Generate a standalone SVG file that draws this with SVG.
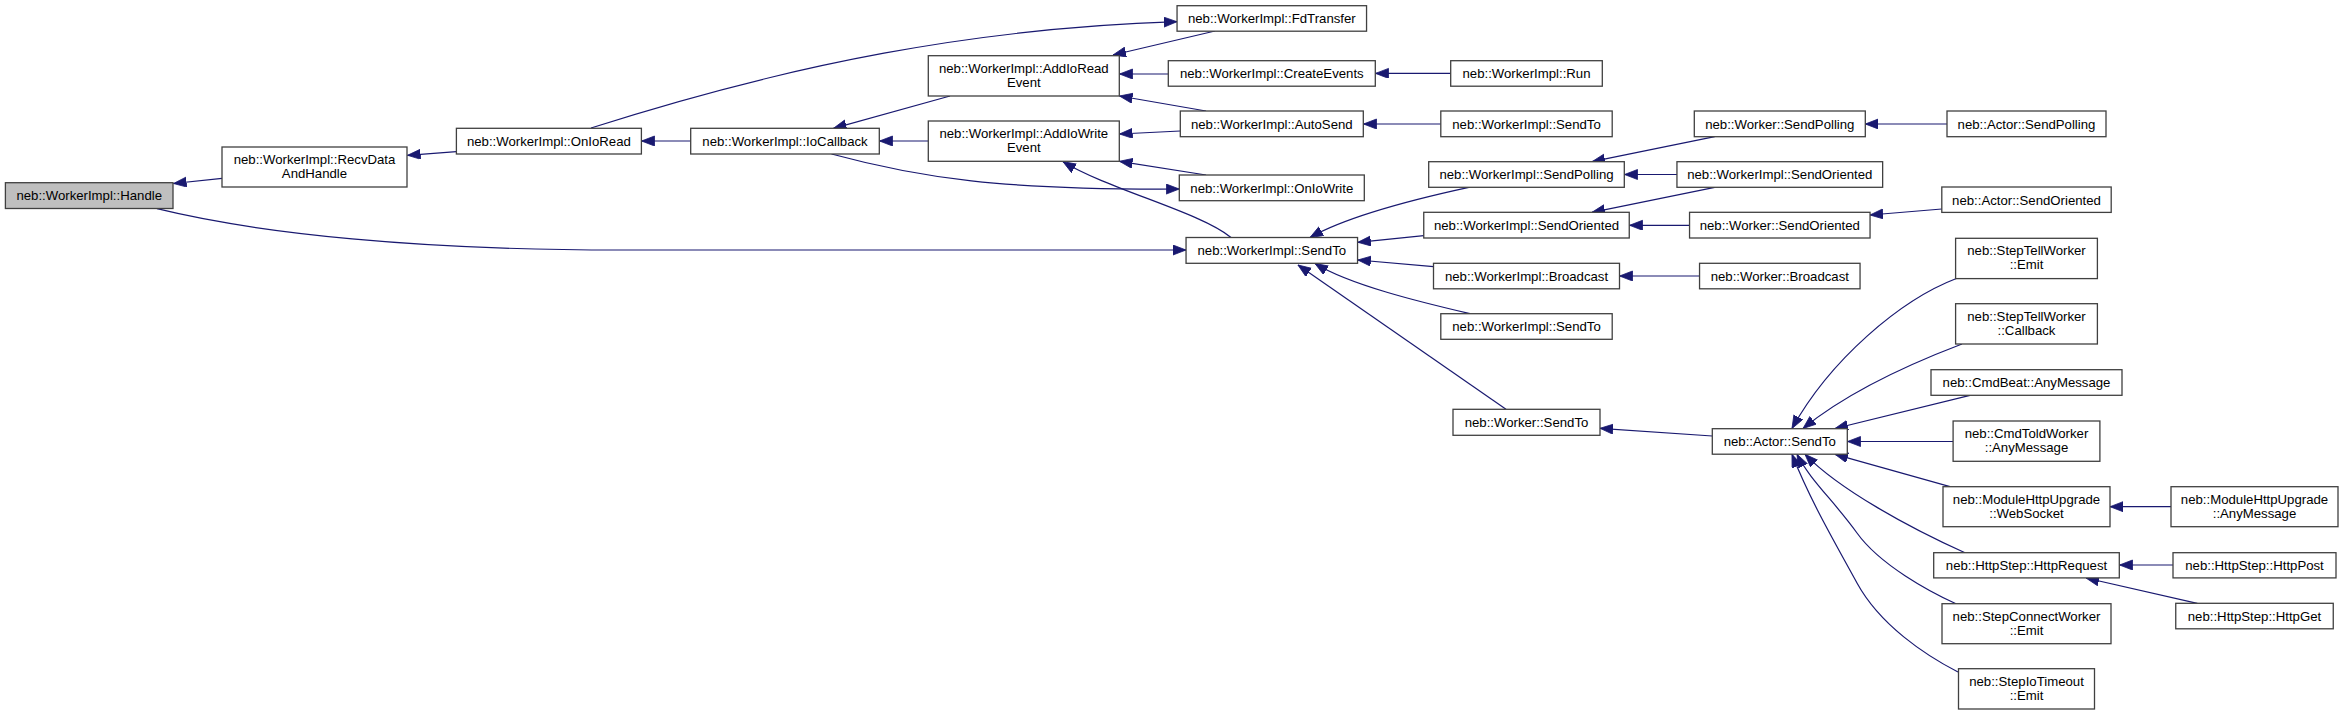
<svg xmlns="http://www.w3.org/2000/svg" width="2344" height="715" viewBox="0 0 2344 715">
<style>
.n rect{fill:#ffffff;stroke:#404040;stroke-width:1.3}
.n.focus rect{fill:#bfbfbf}
.n text{font-family:"Liberation Sans",Arial,sans-serif;font-size:13.2px;fill:#000;text-anchor:middle}
.e path{fill:none;stroke:#191970;stroke-width:1.2;marker-end:url(#ah)}
</style>
<defs>
<marker id="ah" markerUnits="userSpaceOnUse" markerWidth="14" markerHeight="11" refX="13" refY="5" orient="auto">
<path d="M0,0 L13,5 L0,10 z" fill="#191970" stroke="#191970" stroke-width="0.8"/>
</marker>
</defs>
<rect width="2344" height="715" fill="#ffffff"/>
<g id="edges" class="e">
<path d="M222,178.3 L173.5,183.5"/>
<path d="M456.4,151.7 L407.5,155.3"/>
<path d="M690.7,141 L641.5,141"/>
<path d="M950,96 L833.5,128.3"/>
<path d="M928.3,141 L879.5,141"/>
<path d="M591,128 C791,64 977,28 1177,21.7"/>
<path d="M1215,31 L1113,55"/>
<path d="M1168.3,74 L1119.5,74"/>
<path d="M1206,111 L1119.5,96"/>
<path d="M1180.3,131 L1119.5,134"/>
<path d="M1206,175 L1119.5,161.3"/>
<path d="M831.5,154 C920,178 1000,190 1179.3,189"/>
<path d="M1231,237.5 C1200,212 1110,190 1063,161.7"/>
<path d="M157,208.7 C260,234 420,250 620,250 L1186,250"/>
<path d="M1450.7,73.4 L1375.5,73.4"/>
<path d="M1440.8,124 L1363.5,124"/>
<path d="M1470,187.2 C1420,198 1350,215 1310,237.5"/>
<path d="M1423.8,235.7 L1357.8,242.3"/>
<path d="M1433.5,266.7 L1357.8,260"/>
<path d="M1470,313.7 C1420,302 1350,285 1315,263.5"/>
<path d="M1506,409.3 L1298,265"/>
<path d="M1714.7,136.7 L1592,161.7"/>
<path d="M1677,174.5 L1624.5,174.5"/>
<path d="M1714.7,187.3 L1592,212.3"/>
<path d="M1689.5,225.3 L1629.5,225.3"/>
<path d="M1699.5,276 L1619.5,276"/>
<path d="M1947,124 L1865.3,124"/>
<path d="M1941.8,209 L1870,215"/>
<path d="M1712.3,436 L1600,428.3"/>
<path d="M1957,278.3 C1900,300 1830,360 1792,428.5"/>
<path d="M1962,344 C1920,360 1850,390 1803,428.5"/>
<path d="M1970,395.3 L1835,428.5"/>
<path d="M1953,441.5 L1847.5,441.5"/>
<path d="M1950,486.7 L1835,454.3"/>
<path d="M1965,552.7 C1910,528 1840,490 1805,454.3"/>
<path d="M1956,603.7 C1930,592 1880,565 1857,533 S1810,480 1797,454.3"/>
<path d="M1958,672 C1925,655 1880,625 1857,583 S1810,500 1792,454.3"/>
<path d="M2171,506.7 L2110,506.7"/>
<path d="M2173,565 L2119.5,565"/>
<path d="M2197.3,603.3 L2086,578"/>
</g>
<g id="n_handle" class="n focus"><rect x="5.4" y="182.7" width="167.6" height="25.8"/><text x="89.2" y="200.3">neb::WorkerImpl::Handle</text></g>
<g id="n_recvdata" class="n"><rect x="222" y="147" width="185" height="40"/><text x="314.5" y="164">neb::WorkerImpl::RecvData</text><text x="314.5" y="178">AndHandle</text></g>
<g id="n_onioread" class="n"><rect x="456.4" y="128.3" width="185" height="25.7"/><text x="548.9" y="145.9">neb::WorkerImpl::OnIoRead</text></g>
<g id="n_iocallback" class="n"><rect x="690.7" y="128.3" width="188.6" height="25.7"/><text x="785" y="145.9">neb::WorkerImpl::IoCallback</text></g>
<g id="n_addioread" class="n"><rect x="928.3" y="55.7" width="191" height="40.3"/><text x="1023.8" y="72.7">neb::WorkerImpl::AddIoRead</text><text x="1023.8" y="86.7">Event</text></g>
<g id="n_addiowrite" class="n"><rect x="928.3" y="121" width="191" height="40.3"/><text x="1023.8" y="138">neb::WorkerImpl::AddIoWrite</text><text x="1023.8" y="152">Event</text></g>
<g id="n_fdtransfer" class="n"><rect x="1177.05" y="5.7" width="189.5" height="25.5"/><text x="1271.8" y="23.3">neb::WorkerImpl::FdTransfer</text></g>
<g id="n_createevents" class="n"><rect x="1168.3" y="60.7" width="207" height="25.5"/><text x="1271.8" y="78.3">neb::WorkerImpl::CreateEvents</text></g>
<g id="n_autosend" class="n"><rect x="1180.3" y="111" width="183" height="25.7"/><text x="1271.8" y="128.6">neb::WorkerImpl::AutoSend</text></g>
<g id="n_oniowrite" class="n"><rect x="1179.3" y="175" width="185" height="25.7"/><text x="1271.8" y="192.6">neb::WorkerImpl::OnIoWrite</text></g>
<g id="n_wi_sendto" class="n"><rect x="1186.05" y="237.5" width="171.5" height="25.8"/><text x="1271.8" y="255.1">neb::WorkerImpl::SendTo</text></g>
<g id="n_run" class="n"><rect x="1450.7" y="60.7" width="151.6" height="25.5"/><text x="1526.5" y="78.3">neb::WorkerImpl::Run</text></g>
<g id="n_wi_sendto2" class="n"><rect x="1440.8" y="111" width="171.4" height="25.7"/><text x="1526.5" y="128.6">neb::WorkerImpl::SendTo</text></g>
<g id="n_wi_sendpolling" class="n"><rect x="1428.7" y="161.7" width="195.6" height="25.6"/><text x="1526.5" y="179.3">neb::WorkerImpl::SendPolling</text></g>
<g id="n_wi_sendoriented" class="n"><rect x="1423.75" y="212.3" width="205.5" height="25.7"/><text x="1526.5" y="229.9">neb::WorkerImpl::SendOriented</text></g>
<g id="n_wi_broadcast" class="n"><rect x="1433.5" y="263.3" width="186" height="25.5"/><text x="1526.5" y="280.9">neb::WorkerImpl::Broadcast</text></g>
<g id="n_wi_sendto3" class="n"><rect x="1440.8" y="313.7" width="171.4" height="25.6"/><text x="1526.5" y="331.3">neb::WorkerImpl::SendTo</text></g>
<g id="n_w_sendto" class="n"><rect x="1453" y="409.3" width="147" height="26"/><text x="1526.5" y="426.9">neb::Worker::SendTo</text></g>
<g id="n_w_sendpolling" class="n"><rect x="1694.3" y="111" width="171" height="25.7"/><text x="1779.8" y="128.6">neb::Worker::SendPolling</text></g>
<g id="n_wi_sendoriented2" class="n"><rect x="1676.95" y="161.7" width="205.7" height="25.6"/><text x="1779.8" y="179.3">neb::WorkerImpl::SendOriented</text></g>
<g id="n_w_sendoriented" class="n"><rect x="1689.55" y="212.3" width="180.5" height="25.7"/><text x="1779.8" y="229.9">neb::Worker::SendOriented</text></g>
<g id="n_w_broadcast" class="n"><rect x="1699.55" y="263.3" width="160.5" height="25.5"/><text x="1779.8" y="280.9">neb::Worker::Broadcast</text></g>
<g id="n_a_sendto" class="n"><rect x="1712.3" y="428.7" width="135" height="25.5"/><text x="1779.8" y="446.3">neb::Actor::SendTo</text></g>
<g id="n_a_sendpolling" class="n"><rect x="1947" y="111" width="159" height="25.7"/><text x="2026.5" y="128.6">neb::Actor::SendPolling</text></g>
<g id="n_a_sendoriented" class="n"><rect x="1941.8" y="187" width="169.4" height="25.4"/><text x="2026.5" y="204.6">neb::Actor::SendOriented</text></g>
<g id="n_steptell_emit" class="n"><rect x="1955.6" y="238.3" width="141.8" height="40.3"/><text x="2026.5" y="255.3">neb::StepTellWorker</text><text x="2026.5" y="269.3">::Emit</text></g>
<g id="n_steptell_callback" class="n"><rect x="1955.6" y="303.7" width="141.8" height="40.3"/><text x="2026.5" y="320.7">neb::StepTellWorker</text><text x="2026.5" y="334.7">::Callback</text></g>
<g id="n_cmdbeat" class="n"><rect x="1931" y="369.7" width="191" height="25.6"/><text x="2026.5" y="387.3">neb::CmdBeat::AnyMessage</text></g>
<g id="n_cmdtold" class="n"><rect x="1953.1" y="421" width="146.8" height="40.3"/><text x="2026.5" y="438">neb::CmdToldWorker</text><text x="2026.5" y="452">::AnyMessage</text></g>
<g id="n_websocket" class="n"><rect x="1943" y="486.7" width="167" height="40"/><text x="2026.5" y="503.7">neb::ModuleHttpUpgrade</text><text x="2026.5" y="517.7">::WebSocket</text></g>
<g id="n_mhu_anymessage" class="n"><rect x="2171" y="486.7" width="167" height="40"/><text x="2254.5" y="503.7">neb::ModuleHttpUpgrade</text><text x="2254.5" y="517.7">::AnyMessage</text></g>
<g id="n_httprequest" class="n"><rect x="1933.7" y="552.7" width="185.6" height="25.2"/><text x="2026.5" y="570.2">neb::HttpStep::HttpRequest</text></g>
<g id="n_httppost" class="n"><rect x="2173" y="552.7" width="163" height="25.2"/><text x="2254.5" y="570.2">neb::HttpStep::HttpPost</text></g>
<g id="n_httpget" class="n"><rect x="2175.75" y="603.3" width="157.5" height="25.5"/><text x="2254.5" y="620.9">neb::HttpStep::HttpGet</text></g>
<g id="n_stepconnect" class="n"><rect x="1942" y="603.7" width="169" height="40"/><text x="2026.5" y="620.7">neb::StepConnectWorker</text><text x="2026.5" y="634.7">::Emit</text></g>
<g id="n_stepiotimeout" class="n"><rect x="1958.5" y="668.7" width="136" height="40.3"/><text x="2026.5" y="685.7">neb::StepIoTimeout</text><text x="2026.5" y="699.7">::Emit</text></g>
</svg>
